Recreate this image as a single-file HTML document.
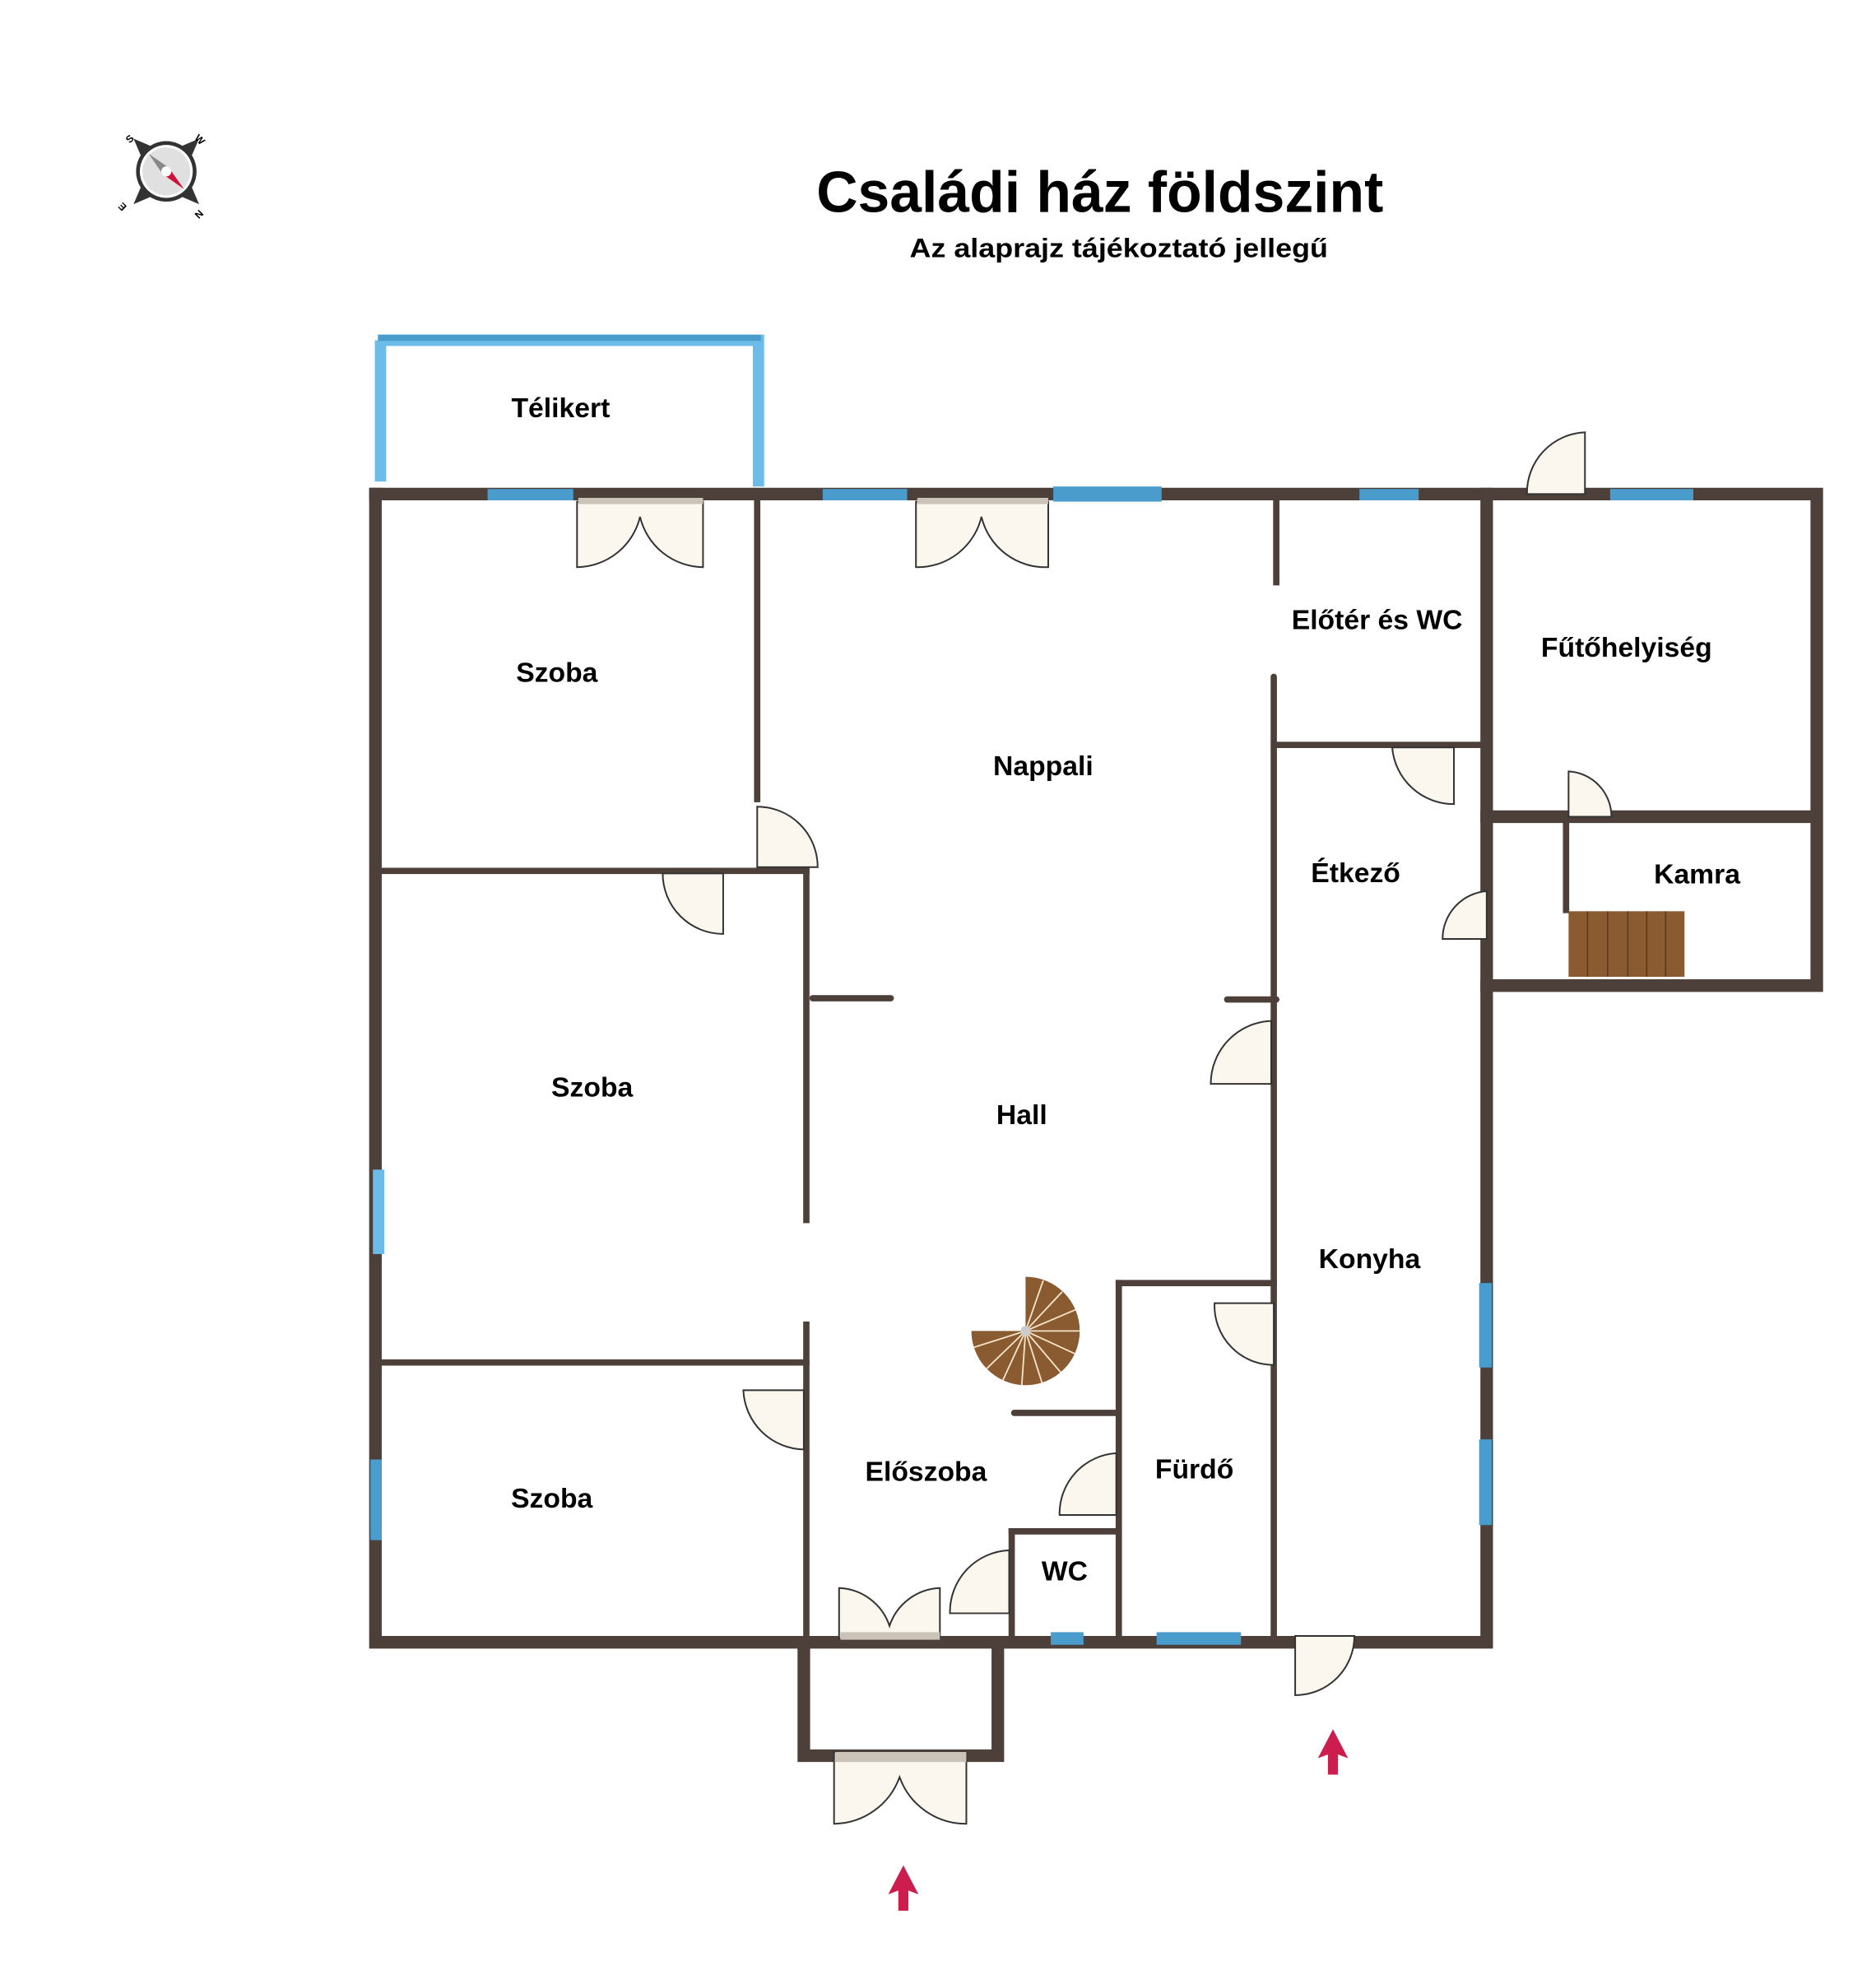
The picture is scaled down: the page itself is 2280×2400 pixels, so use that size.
<!DOCTYPE html>
<html><head><meta charset="utf-8"><style>
html,body{margin:0;padding:0;background:#fff;}
svg{display:block;}
text{font-family:"Liberation Sans",sans-serif;font-weight:bold;fill:#000;}
</style></head><body>
<svg width="2280" height="2400" viewBox="0 0 1489 1567" preserveAspectRatio="none" xmlns="http://www.w3.org/2000/svg">
<rect width="1489" height="1567" fill="#fff"/>
<!-- compass -->
<g transform="translate(132,136)">
<polygon points="-26,-26 -12,-20 -20,-12" fill="#333"/>
<polygon points="26,-26 12,-20 20,-12" fill="#333"/>
<polygon points="-26,26 -12,20 -20,12" fill="#333"/>
<polygon points="26,26 12,20 20,12" fill="#333"/>
<circle r="24" fill="#333"/><circle r="21" fill="#fff"/><circle r="19" fill="#e0e0e0"/>
<polygon points="-14,-14 2,-3 -3,2" fill="#888"/>
<polygon points="14,14 2,-3 -3,2" fill="#d0103a"/>
<circle r="4" fill="#fff"/>
<text x="-29" y="-22" font-size="8" fill="#888" transform="rotate(-45 -29 -22)">S</text>
<text x="22" y="-26" font-size="8" fill="#888" transform="rotate(45 22 -26)">W</text>
<text x="-31" y="28" font-size="8" fill="#888" transform="rotate(-135 -31 28)">E</text>
<text x="26" y="30" font-size="8" fill="#888" transform="rotate(135 26 30)">N</text>
</g>
<text x="873" y="168" font-size="46" text-anchor="middle" textLength="450" lengthAdjust="spacingAndGlyphs">Családi ház földszint</text>
<text x="888" y="204" font-size="21" text-anchor="middle" textLength="332" lengthAdjust="spacingAndGlyphs">Az alaprajz tájékoztató jellegű</text>

<g stroke="#6dbbe8" stroke-width="9" fill="none">
<path d="M300,270 L602,270 L602,386 M302,270 L302,382"/>
</g>
<g stroke="#4a9ccc" stroke-width="5"><line x1="300" y1="268" x2="604" y2="268"/></g>

<g stroke="#4d3f39" stroke-linecap="square" fill="none">
<g stroke-width="10">
<path d="M298,392 L1442,392 L1442,782 L1180,782"/>
<path d="M298,392 L298,1303 L1180,1303 L1180,392"/>
<path d="M638,1303 L638,1393 L792,1393 L792,1303"/>
<line x1="1180" y1="648" x2="1438" y2="648"/>
</g>
<g stroke-width="5">
<line x1="601" y1="392" x2="601" y2="634"/>
<line x1="303" y1="691" x2="640" y2="691"/>
<line x1="640" y1="691" x2="640" y2="968"/>
<line x1="640" y1="1051" x2="640" y2="1303"/>
<line x1="303" y1="1081" x2="640" y2="1081"/>
<line x1="645" y1="792" x2="707" y2="792" stroke-linecap="round"/>
<line x1="1013" y1="392" x2="1013" y2="462"/>
<line x1="1011" y1="537" x2="1011" y2="1303" stroke-linecap="round"/>
<line x1="1013" y1="591" x2="1176" y2="591"/>
<line x1="974" y1="793" x2="1013" y2="793" stroke-linecap="round"/>
<line x1="888" y1="1018" x2="888" y2="1303"/>
<line x1="888" y1="1018" x2="1011" y2="1018"/>
<line x1="805" y1="1121" x2="888" y2="1121" stroke-linecap="round"/>
<line x1="803" y1="1215" x2="803" y2="1303"/>
<line x1="803" y1="1215" x2="888" y2="1215"/>
<line x1="1243" y1="648" x2="1243" y2="722"/>
</g>
</g>
<g fill="#4a9ccc">
<rect x="387" y="388" width="68" height="9"/>
<rect x="653" y="388" width="67" height="9"/>
<rect x="836" y="386" width="86" height="12"/>
<rect x="1079" y="388" width="47" height="9"/>
<rect x="1278" y="388" width="66" height="9"/>
<rect x="294" y="1158" width="9" height="64"/>
<rect x="1174" y="1018" width="10" height="67"/>
<rect x="1174" y="1142" width="10" height="68"/>
<rect x="834" y="1295" width="26" height="10"/>
<rect x="918" y="1295" width="67" height="10"/>
</g>
<rect x="296" y="928" width="9" height="67" fill="#6dbbe8"/>

<rect x="1245" y="723" width="92" height="52" fill="#8a5a30"/>
<g stroke="#5a3a1c" stroke-width="1"><line x1="1260" y1="723" x2="1260" y2="775"/><line x1="1276" y1="723" x2="1276" y2="775"/><line x1="1292" y1="723" x2="1292" y2="775"/><line x1="1307" y1="723" x2="1307" y2="775"/><line x1="1322" y1="723" x2="1322" y2="775"/></g>

<g transform="translate(814,1056)">
<path d="M0,-43 A43,43 0 1 1 -43,0 L0,0 Z" fill="#8a5a30"/>
<g stroke="#f3e3c8" stroke-width="1.2">
<line x1="0" y1="0" x2="14" y2="-40"/><line x1="0" y1="0" x2="29" y2="-31"/><line x1="0" y1="0" x2="40" y2="-17"/><line x1="0" y1="0" x2="43" y2="0"/><line x1="0" y1="0" x2="39" y2="18"/><line x1="0" y1="0" x2="28" y2="33"/><line x1="0" y1="0" x2="13" y2="41"/><line x1="0" y1="0" x2="-3" y2="43"/><line x1="0" y1="0" x2="-18" y2="39"/><line x1="0" y1="0" x2="-31" y2="30"/><line x1="0" y1="0" x2="-41" y2="13"/>
</g>
<circle r="4" fill="#ccc"/>
</g>

<g fill="#fbf7ef" stroke="#333" stroke-width="1.3">
<path d="M601,688 L601,640 A48,48 0 0 1 649,688 Z"/>
<path d="M574,693 L526,693 A48,48 0 0 0 574,741 Z"/>
<path d="M1154,593 L1105,593 A49,49 0 0 0 1154,638 Z"/>
<path d="M1245,648 L1245,612 A36,36 0 0 1 1279,648 Z"/>
<path d="M1180,745 L1180,707 A38,38 0 0 0 1145,745 Z"/>
<path d="M1009,860 L1009,810 A50,50 0 0 0 961,860 Z"/>
<path d="M1011,1034 L964,1034 A47,47 0 0 0 1011,1083 Z"/>
<path d="M638,1103 L590,1103 A49,49 0 0 0 638,1150 Z"/>
<path d="M886,1202 L886,1153 A48,48 0 0 0 841,1202 Z"/>
<path d="M801,1280 L801,1230 A49,49 0 0 0 754,1280 Z"/>
<path d="M1028,1298 L1075,1298 A47,47 0 0 1 1028,1345 Z"/>
<path d="M1258,392 L1258,343 A48,48 0 0 0 1212,392 Z"/>
<path d="M458,398 L458,450 A52,52 0 0 0 508,410 A52,52 0 0 0 558,450 L558,398 Z"/>
<path d="M727,398 L727,450 A52,52 0 0 0 779,410 A52,52 0 0 0 832,450 L832,398 Z"/>
<path d="M666,1300 L666,1260 A44,44 0 0 1 706,1290 A44,44 0 0 1 746,1260 L746,1300 Z"/>
<path d="M662,1390 L662,1447 A56,56 0 0 0 714,1410 A56,56 0 0 0 767,1447 L767,1390 Z"/>
</g>
<g fill="#cbc3b8">
<rect x="459" y="395" width="99" height="5"/>
<rect x="728" y="395" width="104" height="5"/>
<rect x="667" y="1295" width="79" height="6"/>
<rect x="663" y="1390" width="104" height="8"/>
</g>

<g fill="#cc1d4e">
<polygon points="1058,1372 1070,1395 1062,1392 1062,1408 1054,1408 1054,1392 1046,1395"/>
<polygon points="717,1480 729,1503 721,1500 721,1516 713,1516 713,1500 705,1503"/>
</g>

<g font-size="22" text-anchor="middle">
<text x="445" y="331">Télikert</text>
<text x="442" y="541">Szoba</text>
<text x="828" y="615">Nappali</text>
<text x="1093" y="499">Előtér és WC</text>
<text x="1291" y="521">Fűtőhelyiség</text>
<text x="1076" y="700">Étkező</text>
<text x="1347" y="701">Kamra</text>
<text x="470" y="870">Szoba</text>
<text x="811" y="892">Hall</text>
<text x="1087" y="1006">Konyha</text>
<text x="948" y="1173">Fürdő</text>
<text x="735" y="1175">Előszoba</text>
<text x="438" y="1196">Szoba</text>
<text x="845" y="1254">WC</text>
</g>
</svg>
</body></html>
